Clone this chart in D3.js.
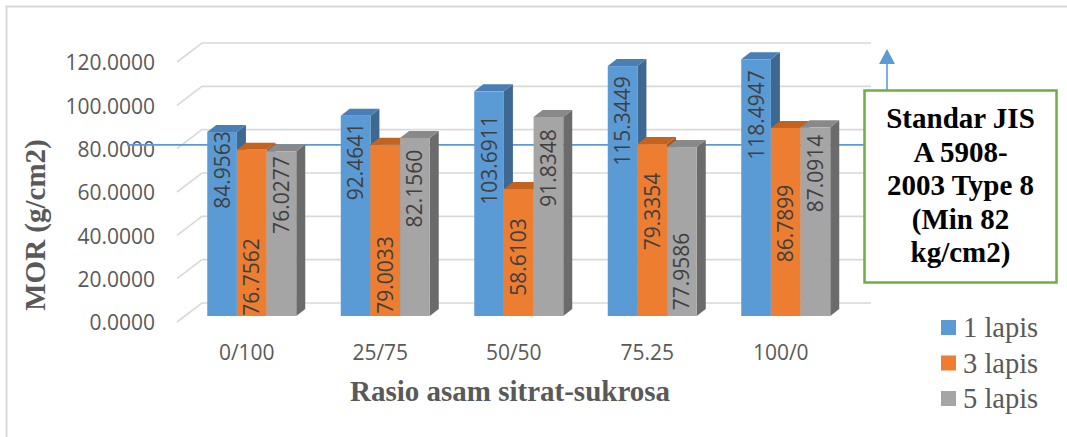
<!DOCTYPE html>
<html>
<head>
<meta charset="utf-8">
<script src="https://cdn.jsdelivr.net/npm/d3@7"></script>
<style>
  html, body { margin: 0; padding: 0; background: #fff; }
  svg { display: block; }
</style>
</head>
<body>
<svg id="chart" width="1067" height="437"></svg>
<script>
// ---- data ----
const categories = ["0/100", "25/75", "50/50", "75.25", "100/0"];
const seriesNames = ["1 lapis", "3 lapis", "5 lapis"];
const lapis1 = [84.9563, 92.4641, 103.6911, 115.3449, 118.4947];
const lapis3 = [76.7562, 79.0033, 58.6103, 79.3354, 86.7899];
const lapis5 = [76.0277, 82.1560, 91.8348, 77.9586, 87.0914];
const yTicks = [0, 20, 40, 60, 80, 100, 120];
const standardLines = ["Standar JIS", "A 5908-", "2003 Type 8", "(Min 82", "kg/cm2)"];

// ---- layout (where each value label sits along its bar, in axis units) ----
const labelMid1 = [67.4, 71.3, 72.0, 90.0, 92.8];
const labelMid3 = [18.0, 18.9, 27.2, 48.2, 42.7];
const labelMid5 = [55.8, 58.8, 68.3, 20.5, 65.8];
const refLevel = 79;   // height of the horizontal reference line

const seriesValues = [lapis1, lapis3, lapis5];
const labelMids = [labelMid1, labelMid3, labelMid5];

const front = ["#5B9BD5", "#ED7D31", "#A5A5A5"];
const topFace = ["#4A7EB4", "#C4621F", "#898989"];
const sideFace = ["#3D6892", "#A8531B", "#6B6B6B"];

const svg = d3.select("#chart");

// chart frame
svg.append("rect")
  .attr("x", 6.5).attr("y", 6.5)
  .attr("width", 1200).attr("height", 600)
  .attr("fill", "none").attr("stroke", "#D9D9D9").attr("stroke-width", 2);

// ---- scales ----
const yMax = 120;
const yBack = d3.scaleLinear().domain([0, yMax]).range([303, 43]);   // back wall
const yFront = d3.scaleLinear().domain([0, yMax]).range([323, 63]);  // front floor edge
const yBar = d3.scaleLinear().domain([0, yMax]).range([316, 56]);    // bar front faces

const xBack = d3.scaleBand().domain(categories).range([202, 869.5]);
const xSub = d3.scaleBand().domain(seriesNames)
  .range([22.25, xBack.bandwidth() - 22.25]);
const barShift = -17;          // bars sit part-way into the floor depth
const depthX = 9, depthY = -7; // 3D extrusion of each bar
const floorX = -25, floorY = 20;

// ---- gridlines: back wall + floor-side diagonals ----
const grid = svg.append("g").attr("stroke", "#D9D9D9").attr("stroke-width", 1.6).attr("fill", "none");
yTicks.forEach(t => {
  const yb = yBack(t);
  grid.append("path")
    .attr("d", `M${202 + floorX},${yb + floorY - 1}L202,${yb}L871,${yb}`);
});

// ---- y axis labels ----
const yAxis = d3.axisLeft(yFront)
  .tickValues(yTicks)
  .tickSize(0)
  .tickPadding(0)
  .tickFormat(d3.format(".4f"));
const yg = svg.append("g").attr("transform", "translate(155,0)").call(yAxis);
yg.select(".domain").remove();
yg.selectAll("text")
  .attr("font-family", "'Open Sans', sans-serif")
  .attr("font-size", 21)
  .attr("fill", "#595959");

// ---- x axis labels ----
const xFront = d3.scaleBand().domain(categories).range([202 - 22, 869.5 - 22]);
const xAxis = d3.axisBottom(xFront).tickSize(0).tickPadding(0);
const xg = svg.append("g").attr("transform", "translate(0,345)").call(xAxis);
xg.select(".domain").remove();
xg.selectAll("text")
  .attr("font-family", "'Open Sans', sans-serif")
  .attr("font-size", 21)
  .attr("fill", "#595959");

// ---- reference line (drawn behind the bars) ----
svg.append("line")
  .attr("x1", 127).attr("x2", 864)
  .attr("y1", yBar(refLevel)).attr("y2", yBar(refLevel))
  .attr("stroke", "#5B9BD5").attr("stroke-width", 1.6);

// ---- 3D bars ----
const bars = svg.append("g");
categories.forEach((cat, i) => {
  seriesNames.forEach((s, j) => {
    const v = seriesValues[j][i];
    const x0 = xBack(cat) + barShift + xSub(s);
    const w = xSub.bandwidth();
    const yt = yBar(v), yb = yBar(0);
    const g = bars.append("g");
    // side face
    g.append("path")
      .attr("d", `M${x0 + w},${yt}L${x0 + w + depthX},${yt + depthY}L${x0 + w + depthX},${yb + depthY}L${x0 + w},${yb}Z`)
      .attr("fill", sideFace[j]);
    // top face
    g.append("path")
      .attr("d", `M${x0},${yt}L${x0 + w},${yt}L${x0 + w + depthX},${yt + depthY}L${x0 + depthX},${yt + depthY}Z`)
      .attr("fill", topFace[j]);
    // front face
    g.append("rect")
      .attr("x", x0).attr("y", yt)
      .attr("width", w).attr("height", yb - yt)
      .attr("fill", front[j]);
  });
});

// ---- value labels (rotated) ----
const labels = svg.append("g")
  .attr("font-family", "'Open Sans', sans-serif")
  .attr("font-size", 21)
  .attr("fill", "#404040");
categories.forEach((cat, i) => {
  seriesNames.forEach((s, j) => {
    const v = seriesValues[j][i];
    const cx = xBack(cat) + barShift + xSub(s) + xSub.bandwidth() / 2;
    const cy = yBar(labelMids[j][i]);
    labels.append("text")
      .attr("transform", `translate(${cx},${cy}) rotate(-90)`)
      .attr("text-anchor", "middle")
      .attr("dy", "0.36em")
      .text(d3.format(".4f")(v));
  });
});

// ---- axis titles ----
svg.append("text")
  .attr("x", 510).attr("y", 401)
  .attr("text-anchor", "middle")
  .attr("font-family", "'Liberation Serif', 'Times New Roman', serif")
  .attr("font-weight", "bold")
  .attr("font-size", 29)
  .attr("fill", "#595959")
  .text("Rasio asam sitrat-sukrosa");

svg.append("text")
  .attr("transform", "translate(45,225) rotate(-90)")
  .attr("text-anchor", "middle")
  .attr("font-family", "'Liberation Serif', 'Times New Roman', serif")
  .attr("font-weight", "bold")
  .attr("font-size", 29)
  .attr("fill", "#595959")
  .text("MOR (g/cm2)");

// ---- standard callout: arrow + box ----
svg.append("line")
  .attr("x1", 887).attr("x2", 887).attr("y1", 90).attr("y2", 62)
  .attr("stroke", "#5B9BD5").attr("stroke-width", 1.6);
svg.append("path")
  .attr("d", "M879,64L895,64L887,49Z")
  .attr("fill", "#5B9BD5");

svg.append("rect")
  .attr("x", 864.5).attr("y", 90.5)
  .attr("width", 192).attr("height", 192)
  .attr("fill", "#fff")
  .attr("stroke", "#70AD47").attr("stroke-width", 2.5);

const boxText = svg.append("text")
  .attr("text-anchor", "middle")
  .attr("font-family", "'Liberation Serif', 'Times New Roman', serif")
  .attr("font-weight", "bold")
  .attr("font-size", 29)
  .attr("fill", "#000");
standardLines.forEach((line, k) => {
  boxText.append("tspan")
    .attr("x", 960.5)
    .attr("y", 128 + k * 33.5)
    .text(line);
});

// ---- legend ----
const legend = svg.append("g");
seriesNames.forEach((s, j) => {
  const base = 337 + j * 35.5;
  legend.append("rect")
    .attr("x", 941).attr("y", base - 17)
    .attr("width", 15).attr("height", 15)
    .attr("fill", front[j]);
  legend.append("text")
    .attr("x", 963).attr("y", base)
    .attr("font-family", "'Liberation Serif', 'Times New Roman', serif")
    .attr("font-size", 28.5)
    .attr("fill", "#595959")
    .text(s);
});
</script>
</body>
</html>
